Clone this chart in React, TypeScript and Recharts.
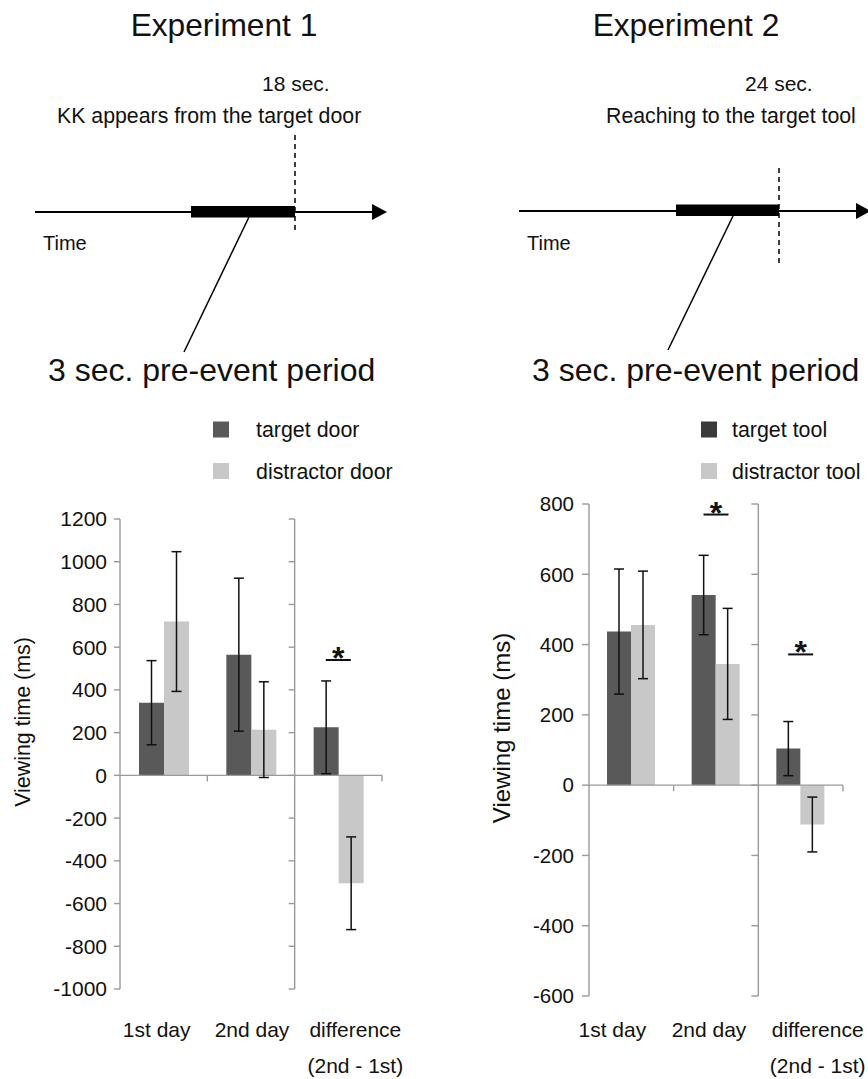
import React from 'react';
import { BarChart, Bar, XAxis, YAxis, ErrorBar, ReferenceLine, ReferenceDot } from 'recharts';

const FONT = '"Liberation Sans", Arial, Helvetica, sans-serif';
const AXIS = '#9a9a9a';
const INK = '#111111';

// ---------- data ----------
const categories = ['1st day', '2nd day', 'difference'];
const subLabels = ['', '', '(2nd - 1st)'];

const exp1Target = [340, 565, 225];
const exp1TargetErr = [197, 358, 217];
const exp1Distractor = [720, 214, -505];
const exp1DistractorErr = [327, 224, 217];
const exp1Ticks = [-1000, -800, -600, -400, -200, 0, 200, 400, 600, 800, 1000, 1200];
const exp1Sig = [{ category: 'difference', value: 540 }];

const exp2Target = [437, 541, 104];
const exp2TargetErr = [178, 113, 77];
const exp2Distractor = [456, 345, -112];
const exp2DistractorErr = [153, 158, 78];
const exp2Ticks = [-600, -400, -200, 0, 200, 400, 600, 800];
const exp2Sig = [
  { category: '2nd day', value: 770 },
  { category: 'difference', value: 372 },
];

const exp1Legend = ['target door', 'distractor door'];
const exp2Legend = ['target tool', 'distractor tool'];

const buildData = (t: number[], te: number[], d: number[], de: number[]) =>
  categories.map((c, i) => ({ cat: c, sub: subLabels[i], t: t[i], te: te[i], d: d[i], de: de[i] }));

const exp1Data = buildData(exp1Target, exp1TargetErr, exp1Distractor, exp1DistractorErr);
const exp2Data = buildData(exp2Target, exp2TargetErr, exp2Distractor, exp2DistractorErr);

type PanelProps = {
  data: any[];
  ticks: number[];
  sig: { category: string; value: number }[];
  left: number;
  margin: { top: number; right: number; bottom: number; left: number };
  tickFont: number;
  tickSize: number;
  tickMargin: number;
  barSize: number;
  labelDx: number[];
  labelDy: number;
  targetColor: string;
  distractorColor: string;
};

const CatTick = (props: any) => {
  const { x, y, payload, index, labelDx, labelDy } = props;
  const cx = x + (labelDx[index] || 0);
  const sub = subLabels[index];
  return (
    <text x={cx} y={y + labelDy} textAnchor="middle" fontSize={21} fontFamily={FONT} fill={INK}>
      <tspan x={cx}>{payload.value}</tspan>
      {sub ? (
        <tspan x={cx} dy={36}>
          {sub}
        </tspan>
      ) : null}
    </text>
  );
};

const Panel = (p: PanelProps) => {
  const lastCat = categories[categories.length - 1];
  return (
    <div style={{ position: 'absolute', left: p.left, top: 0 }}>
      <BarChart
        width={434}
        height={1079}
        data={p.data}
        margin={p.margin}
        barGap={0}
        barCategoryGap={0}
      >
        <XAxis
          dataKey="cat"
          axisLine={false}
          tickLine={false}
          tickSize={0}
          tickMargin={0}
          height={50}
          interval={0}
          tick={(tp: any) => <CatTick {...tp} labelDx={p.labelDx} labelDy={p.labelDy} />}
        />
        <YAxis
          type="number"
          domain={[p.ticks[0], p.ticks[p.ticks.length - 1]]}
          ticks={p.ticks}
          interval={0}
          allowDataOverflow
          width={60}
          tickSize={p.tickSize}
          tickMargin={p.tickMargin}
          axisLine={{ stroke: AXIS, strokeWidth: 1.4 }}
          tickLine={{ stroke: AXIS, strokeWidth: 1.4 }}
          tick={{ fontSize: p.tickFont, fill: INK, fontFamily: FONT }}
        />
        {/* horizontal axis at zero */}
        <ReferenceLine y={0} stroke={AXIS} strokeWidth={1.4} />
        {/* secondary vertical axis between 2nd day and difference */}
        <ReferenceLine x={lastCat} position="start" stroke={AXIS} strokeWidth={1.4} ifOverflow="visible" />
        {p.ticks.map((v) => (
          <ReferenceLine
            key={'st' + v}
            segment={[
              { x: lastCat, y: v },
              { x: lastCat, y: v },
            ]}
            position="start"
            ifOverflow="visible"
            shape={(s: any) => (
              <line x1={s.x1 - p.tickSize} y1={s.y1} x2={s.x1} y2={s.y1} stroke={AXIS} strokeWidth={1.4} />
            )}
          />
        ))}
        {[categories[0], lastCat].map((c) => (
          <ReferenceLine
            key={'zt' + c}
            segment={[
              { x: c, y: 0 },
              { x: c, y: 0 },
            ]}
            position="end"
            ifOverflow="visible"
            shape={(s: any) => (
              <line x1={s.x1} y1={s.y1} x2={s.x1} y2={s.y1 + 6} stroke={AXIS} strokeWidth={1.4} />
            )}
          />
        ))}
        <Bar dataKey="t" fill={p.targetColor} barSize={p.barSize} isAnimationActive={false}>
          <ErrorBar dataKey="te" width={5} stroke={INK} strokeWidth={1.5} direction="y" />
        </Bar>
        <Bar dataKey="d" fill={p.distractorColor} barSize={p.barSize} isAnimationActive={false}>
          <ErrorBar dataKey="de" width={5} stroke={INK} strokeWidth={1.5} direction="y" />
        </Bar>
        {p.sig.map((s, i) => (
          <ReferenceDot
            key={'sig' + i}
            x={s.category}
            y={s.value}
            ifOverflow="visible"
            shape={(d: any) => (
              <g>
                <line x1={d.cx - 12.5} y1={d.cy} x2={d.cx + 12.5} y2={d.cy} stroke={INK} strokeWidth={2} />
                <text x={d.cx} y={d.cy + 9} textAnchor="middle" fontSize={32} fontWeight="bold" fontFamily={FONT} fill={INK}>
                  *
                </text>
              </g>
            )}
          />
        ))}
      </BarChart>
    </div>
  );
};

const Timeline = (props: {
  x0: number;
  lineY: number;
  tip: number;
  barX1: number;
  barX2: number;
  barY1: number;
  barY2: number;
  dashY1: number;
  dashY2: number;
  diag: [number, number, number, number];
}) => {
  const { x0, lineY, tip, barX1, barX2, barY1, barY2, dashY1, dashY2, diag } = props;
  return (
    <g>
      <line x1={x0} y1={lineY} x2={tip - 14} y2={lineY} stroke="#000" strokeWidth={1.8} />
      <polygon points={`${tip - 15},${lineY - 8} ${tip},${lineY} ${tip - 15},${lineY + 8}`} fill="#000" />
      <rect x={barX1} y={barY1} width={barX2 - barX1} height={barY2 - barY1} fill="#000" />
      <line x1={barX2} y1={dashY1} x2={barX2} y2={dashY2} stroke="#000" strokeWidth={1.5} strokeDasharray="5 4" />
      <line x1={diag[0]} y1={diag[1]} x2={diag[2]} y2={diag[3]} stroke="#000" strokeWidth={1.5} />
    </g>
  );
};

const Overlay = () => (
  <svg
    width={868}
    height={1079}
    style={{ position: 'absolute', left: 0, top: 0, pointerEvents: 'none' }}
    fontFamily={FONT}
  >
    {/* Experiment 1 */}
    <text x={224} y={36} fontSize={31.7} textAnchor="middle" fill={INK}>Experiment 1</text>
    <text x={262} y={91} fontSize={21} fill={INK}>18 sec.</text>
    <text x={57} y={123} fontSize={21.3} fill={INK}>KK appears from the target door</text>
    <Timeline x0={35} lineY={212} tip={387} barX1={191} barX2={295} barY1={206} barY2={217.5} dashY1={135} dashY2={230} diag={[249, 217, 184, 352]} />
    <text x={43} y={250} fontSize={20} fill={INK}>Time</text>
    <text x={48} y={381} fontSize={32} fill={INK}>3 sec. pre-event period</text>

    <rect x={213} y={421.5} width={16} height={16} fill="#595959" />
    <text x={256} y={437} fontSize={21.4} fill={INK}>{exp1Legend[0]}</text>
    <rect x={213} y={463} width={16} height={16} fill="#c8c8c8" />
    <text x={256} y={479} fontSize={21.4} fill={INK}>{exp1Legend[1]}</text>

    <text x={23} y={722} fontSize={21.4} textAnchor="middle" dominantBaseline="central" transform="rotate(-90 23 722)" fill={INK}>
      Viewing time (ms)
    </text>

    {/* Experiment 2 */}
    <text x={686} y={36} fontSize={31.7} textAnchor="middle" fill={INK}>Experiment 2</text>
    <text x={745} y={91} fontSize={21} fill={INK}>24 sec.</text>
    <text x={606} y={123} fontSize={21.3} fill={INK}>Reaching to the target tool</text>
    <Timeline x0={519} lineY={211} tip={871} barX1={676} barX2={779} barY1={204.5} barY2={216} dashY1={168} dashY2={265} diag={[733, 216, 668, 350]} />
    <text x={527} y={250} fontSize={20} fill={INK}>Time</text>
    <text x={532} y={381} fontSize={32} fill={INK}>3 sec. pre-event period</text>

    <rect x={701} y={421.5} width={16} height={16} fill="#3a3a3a" />
    <text x={732} y={437} fontSize={21.4} fill={INK}>{exp2Legend[0]}</text>
    <rect x={701} y={463} width={16} height={16} fill="#c8c8c8" />
    <text x={732} y={479} fontSize={21.4} fill={INK}>{exp2Legend[1]}</text>

    <text x={501} y={728} fontSize={24} textAnchor="middle" dominantBaseline="central" transform="rotate(-90 501 728)" fill={INK}>
      Viewing time (ms)
    </text>
  </svg>
);

export default function App() {
  return (
    <div
      style={{
        position: 'absolute',
        left: 0,
        top: 0,
        width: 868,
        height: 1079,
        background: '#fff',
        overflow: 'hidden',
        fontFamily: FONT,
      }}
    >
      <Panel
        data={exp1Data}
        ticks={exp1Ticks}
        sig={exp1Sig}
        left={0}
        margin={{ top: 519, right: 52, bottom: 40, left: 60 }}
        tickFont={21}
        tickSize={6}
        tickMargin={7}
        barSize={25}
        labelDx={[-7, 1, 17]}
        labelDy={48}
        targetColor="#595959"
        distractorColor="#c8c8c8"
      />
      <Panel
        data={exp2Data}
        ticks={exp2Ticks}
        sig={exp2Sig}
        left={434}
        margin={{ top: 504, right: 25, bottom: 33, left: 95 }}
        tickFont={20.5}
        tickSize={7}
        tickMargin={8}
        barSize={24}
        labelDx={[-19, -7, 17]}
        labelDy={41}
        targetColor="#595959"
        distractorColor="#c8c8c8"
      />
      <Overlay />
    </div>
  );
}
